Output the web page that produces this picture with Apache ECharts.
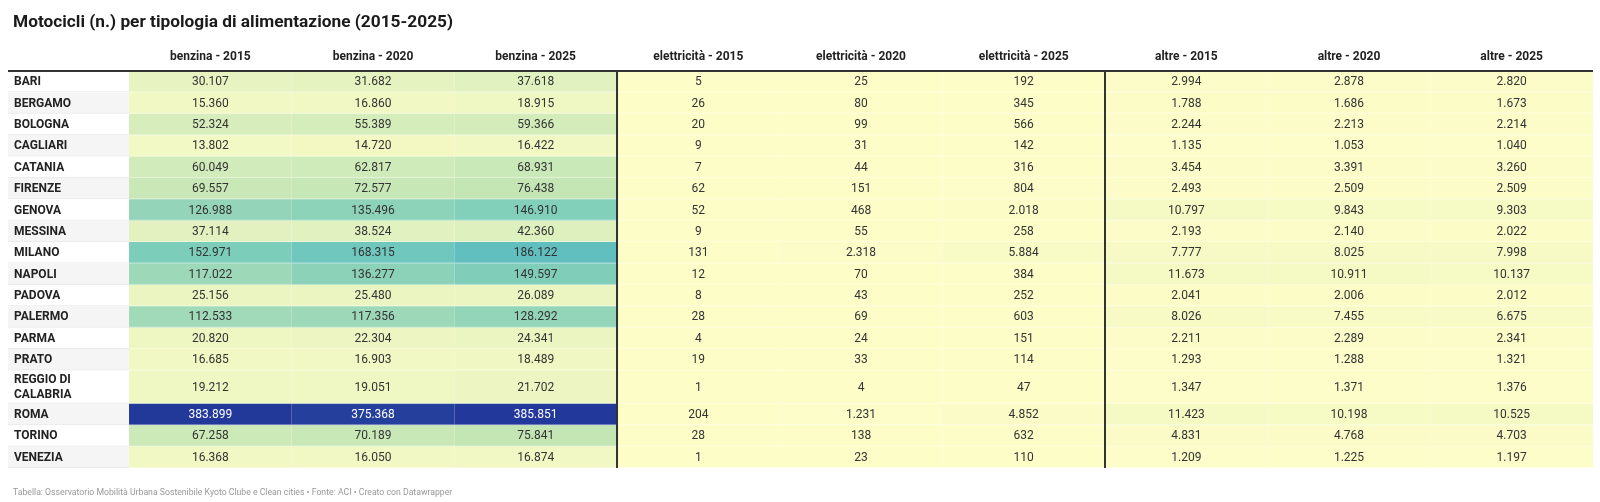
<!DOCTYPE html>
<html>
<head>
<meta charset="utf-8">
<script src="https://cdn.jsdelivr.net/npm/echarts@6/dist/echarts.min.js"></script>
<style>
html,body{margin:0;padding:0;background:#fff;}
#chart{width:1600px;height:502px;}
</style>
</head>
<body>
<div id="chart"></div>
<script>
const cities = ['BARI','BERGAMO','BOLOGNA','CAGLIARI','CATANIA','FIRENZE','GENOVA','MESSINA','MILANO','NAPOLI','PADOVA','PALERMO','PARMA','PRATO','REGGIO DI CALABRIA','ROMA','TORINO','VENEZIA'];
const columnLabels = ['benzina - 2015','benzina - 2020','benzina - 2025','elettricità - 2015','elettricità - 2020','elettricità - 2025','altre - 2015','altre - 2020','altre - 2025'];
const benzina2015 = [30107,15360,52324,13802,60049,69557,126988,37114,152971,117022,25156,112533,20820,16685,19212,383899,67258,16368];
const benzina2020 = [31682,16860,55389,14720,62817,72577,135496,38524,168315,136277,25480,117356,22304,16903,19051,375368,70189,16050];
const benzina2025 = [37618,18915,59366,16422,68931,76438,146910,42360,186122,149597,26089,128292,24341,18489,21702,385851,75841,16874];
const elettricita2015 = [5,26,20,9,7,62,52,9,131,12,8,28,4,19,1,204,28,1];
const elettricita2020 = [25,80,99,31,44,151,468,55,2318,70,43,69,24,33,4,1231,138,23];
const elettricita2025 = [192,345,566,142,316,804,2018,258,5884,384,252,603,151,114,47,4852,632,110];
const altre2015 = [2994,1788,2244,1135,3454,2493,10797,2193,7777,11673,2041,8026,2211,1293,1347,11423,4831,1209];
const altre2020 = [2878,1686,2213,1053,3391,2509,9843,2140,8025,10911,2006,7455,2289,1288,1371,10198,4768,1225];
const altre2025 = [2820,1673,2214,1040,3260,2509,9303,2022,7998,10137,2012,6675,2341,1321,1376,10525,4703,1197];
const columns = [benzina2015,benzina2020,benzina2025,elettricita2015,elettricita2020,elettricita2025,altre2015,altre2020,altre2025];
const groupSize = 3;
const title = 'Motocicli (n.) per tipologia di alimentazione (2015-2025)';
const footer = 'Tabella: Osservatorio Mobilità Urbana Sostenibile Kyoto Clube e Clean cities • Fonte: ACI • Creato con Datawrapper';

// styling
const COLOR_STOPS = [[0,'#fdfdc8'],[0.04,'#f2f8c3'],[0.08,'#e6f3c0'],[0.16,'#d1ebba'],[0.2,'#c3e6b5'],[0.3,'#9ed9b8'],[0.38,'#82cfba'],[0.48,'#62c0c0'],[1,'#22389a']];
const LABEL_W = 0.744;
const FONT = 'Roboto, "Noto Sans", sans-serif';

function hex2rgb(h){return [parseInt(h.slice(1,3),16),parseInt(h.slice(3,5),16),parseInt(h.slice(5,7),16)];}
const maxVal = Math.max(...columns.flat());
function colorFor(v){
  const t = v / maxVal;
  for (let i=1;i<COLOR_STOPS.length;i++){
    if (t <= COLOR_STOPS[i][0]){
      const [t0,c0] = COLOR_STOPS[i-1], [t1,c1] = COLOR_STOPS[i];
      const f = (t - t0)/(t1 - t0);
      const a = hex2rgb(c0), b = hex2rgb(c1);
      return 'rgb(' + a.map((x,k)=>Math.round(x + (b[k]-x)*f)).join(',') + ')';
    }
  }
  return COLOR_STOPS[COLOR_STOPS.length-1][1];
}
function isDark(v){return v/maxVal > 0.7;}
function fmt(v){return String(v).replace(/\B(?=(\d{3})+(?!\d))/g,'.');}
function wrap(s, maxChars){
  const words = s.split(' '); const lines=[]; let cur='';
  words.forEach(w=>{ if(cur && (cur+' '+w).length>maxChars){lines.push(cur);cur=w;} else cur = cur?cur+' '+w:w;});
  if(cur) lines.push(cur); return lines;
}
const wrapped = cities.map(c=>wrap(c, 12));
const rowUnits = wrapped.map(l=>1 + 0.56*(l.length-1));
const rowStart = []; let acc = 0;
rowUnits.forEach(u=>{rowStart.push(acc); acc+=u;});
const totalUnits = acc;
const nCols = columns.length;

const cellData = [];
cities.forEach((c,i)=>{
  columns.forEach((col,j)=>{
    cellData.push([j, rowStart[i], rowStart[i]+rowUnits[i], col[i], i]);
  });
});
const labelData = cities.map((c,i)=>[-LABEL_W, rowStart[i], rowStart[i]+rowUnits[i], i]);
const headerData = columnLabels.map((l,j)=>[j, 0, j]);
const sepData = [];
for (let g=groupSize; g<nCols; g+=groupSize) sepData.push([g, 0, totalUnits]);

const chart = echarts.init(document.getElementById('chart'), null, {renderer:'canvas'});
chart.setOption({
  animation:false,
  backgroundColor:'#ffffff',
  title:[
    {text:title,left:8,top:9,textStyle:{fontFamily:FONT,fontWeight:'bold',fontSize:17.3,color:'#1a1a1a'}},
    {text:footer,left:8,top:483,textStyle:{fontFamily:FONT,fontWeight:'normal',fontSize:8.7,color:'#999999'}}
  ],
  grid:{left:8,right:7,top:71,bottom:34},
  xAxis:{type:'value',min:-LABEL_W,max:nCols,show:false},
  yAxis:{type:'value',inverse:true,min:0,max:totalUnits,show:false},
  series:[
    {
      type:'custom', name:'cells', clip:false,
      data:cellData, encode:{x:0,y:[1,2]},
      renderItem:function(params,api){
        const c=api.value(0), y0=api.value(1), y1=api.value(2), v=api.value(3);
        const p0=api.coord([c,y0]), p1=api.coord([c+1,y1]);
        return {type:'group',children:[
          {type:'rect',shape:{x:p0[0],y:p0[1],width:p1[0]-p0[0],height:p1[1]-p0[1]},style:{fill:colorFor(v)}},
          {type:'line',shape:{x1:p0[0],y1:p1[1]-0.5,x2:p1[0],y2:p1[1]-0.5},style:{stroke:'rgba(255,255,255,0.45)',lineWidth:1}},
          {type:'text',style:{text:fmt(v),x:(p0[0]+p1[0])/2,y:(p0[1]+p1[1])/2+0.5,align:'center',verticalAlign:'middle',fill:isDark(v)?'#ffffff':'#333333',fontSize:12,fontFamily:FONT}}
        ]};
      }
    },
    {
      type:'custom', name:'labels', clip:false,
      data:labelData, encode:{x:0,y:[1,2]},
      renderItem:function(params,api){
        const x0=api.value(0), y0=api.value(1), y1=api.value(2), i=api.value(3);
        const p0=api.coord([x0,y0]), p1=api.coord([0,y1]);
        return {type:'group',children:[
          {type:'rect',shape:{x:p0[0],y:p0[1],width:p1[0]-p0[0],height:p1[1]-p0[1]},style:{fill:i%2?'#f5f5f5':'#ffffff'}},
          {type:'line',shape:{x1:p0[0],y1:p1[1]-0.5,x2:p1[0],y2:p1[1]-0.5},style:{stroke:'#ebebeb',lineWidth:1}},
          {type:'text',style:{text:wrapped[i].join('\n'),x:p0[0]+6,y:(p0[1]+p1[1])/2+0.5,align:'left',verticalAlign:'middle',fill:'#222222',fontSize:12,fontWeight:'bold',fontFamily:FONT,lineHeight:15}}
        ]};
      }
    },
    {
      type:'custom', name:'headers', clip:false,
      data:headerData, encode:{x:0,y:1},
      renderItem:function(params,api){
        const j=api.value(2);
        const p=api.coord([api.value(0)+0.5,0]);
        return {type:'text',style:{text:columnLabels[j],x:p[0],y:p[1]-14,align:'center',verticalAlign:'middle',fill:'#222222',fontSize:12,fontWeight:'bold',fontFamily:FONT}};
      }
    },
    {
      type:'custom', name:'rules', clip:false,
      data:[[-LABEL_W,0,nCols]], encode:{x:0,y:1},
      renderItem:function(params,api){
        const p0=api.coord([api.value(0),api.value(1)]), p1=api.coord([api.value(2),api.value(1)]);
        return {type:'line',shape:{x1:p0[0],y1:p0[1],x2:p1[0],y2:p1[1]},style:{stroke:'#333333',lineWidth:2}};
      }
    },
    {
      type:'custom', name:'separators', clip:false,
      data:sepData, encode:{x:0,y:[1,2]},
      renderItem:function(params,api){
        const p0=api.coord([api.value(0),api.value(1)]), p1=api.coord([api.value(0),api.value(2)]);
        return {type:'line',shape:{x1:p0[0],y1:p0[1],x2:p1[0],y2:p1[1]},style:{stroke:'#333333',lineWidth:2}};
      }
    }
  ]
});
</script>
</body>
</html>
